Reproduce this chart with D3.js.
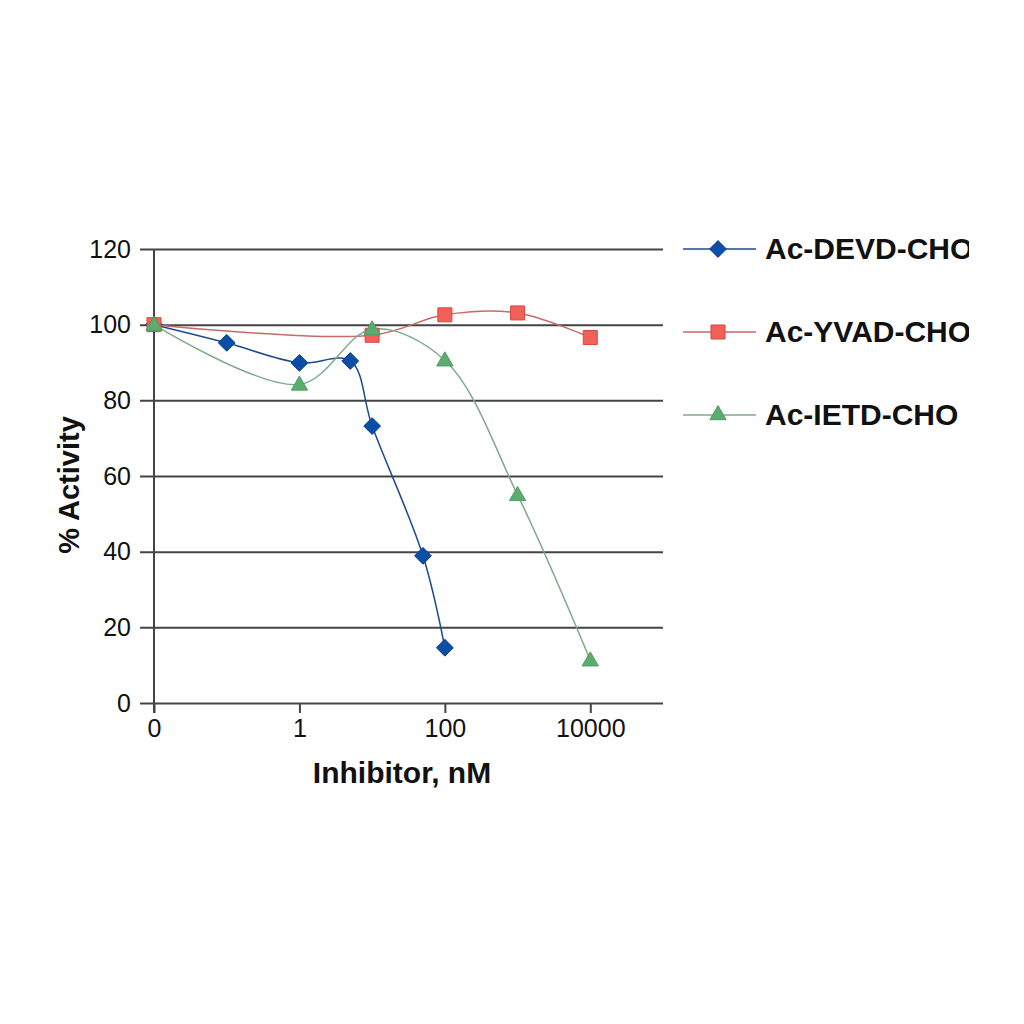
<!DOCTYPE html>
<html>
<head>
<meta charset="utf-8">
<script src="https://cdn.jsdelivr.net/npm/d3@7"></script>
<style>
  body { margin: 0; background: #fff; }
  text { font-family: "Liberation Sans", Arial, sans-serif; }
</style>
</head>
<body>
<svg width="1024" height="1024"></svg>
<script>
// series (x in nM, y in % activity)
var seriesNames = ["Ac-DEVD-CHO", "Ac-YVAD-CHO", "Ac-IETD-CHO"];
var devdX = [0.01, 0.1, 1, 5, 10, 50, 100];
var devdY = [100, 95.2, 89.9, 90.4, 73.2, 38.9, 14.6];
var yvadX = [0.01, 10, 100, 1000, 10000];
var yvadY = [100, 97.2, 102.6, 103.1, 96.6];
var ietdX = [0.01, 1, 10, 100, 1000, 10000];
var ietdY = [100, 84.2, 98.8, 90.6, 55, 11.3];
var xTicks = [0.01, 1, 100, 10000];
var xTickLabels = ["0", "1", "100", "10000"];
var yTicks = [0, 20, 40, 60, 80, 100, 120];

var svg = d3.select("svg");
var grey = "#444";

var x = d3.scaleLog().domain([0.01, 100000]).range([154, 663]);
var y = d3.scaleLinear().domain([0, 120]).range([703, 249]);

// gridlines + y ticks
var yAxis = d3.axisLeft(y).tickValues(yTicks).tickSize(-(663 - 140)).tickPadding(9)
  .tickFormat(d3.format("d"));
var gy = svg.append("g").attr("transform", "translate(140,0)").call(yAxis);
gy.select(".domain").remove();
gy.selectAll(".tick line").attr("stroke", grey).attr("stroke-width", 2);
gy.selectAll(".tick text").attr("font-size", 25).attr("fill", "#111")
  .attr("font-family", "Liberation Sans, Arial, sans-serif");

// vertical axis line
svg.append("line").attr("x1", 154).attr("x2", 154).attr("y1", 249).attr("y2", 713)
  .attr("stroke", grey).attr("stroke-width", 2);

// x axis
var xAxis = d3.axisBottom(x).tickValues(xTicks).tickSize(10).tickPadding(6)
  .tickFormat(function(d, i) { return xTickLabels[i]; });
var gx = svg.append("g").attr("transform", "translate(0,703)").call(xAxis);
gx.select(".domain").remove();
gx.selectAll(".tick line").attr("stroke", grey).attr("stroke-width", 2);
gx.selectAll(".tick text").attr("font-size", 25).attr("fill", "#111")
  .attr("font-family", "Liberation Sans, Arial, sans-serif");

// axis titles
svg.append("text").attr("x", 402).attr("y", 783).attr("text-anchor", "middle")
  .attr("font-size", 30).attr("font-weight", "bold").attr("fill", "#111")
  .text("Inhibitor, nM");
svg.append("text").attr("transform", "translate(79,485) rotate(-90)")
  .attr("text-anchor", "middle").attr("font-size", 29).attr("font-weight", "bold")
  .attr("fill", "#111").text("% Activity");

var styles = [
  { line: "#1c4a8c", fill: "#0b4ea6", stroke: "#0a3b85", shape: d3.symbolDiamond2, size: 180 },
  { line: "#c96a66", fill: "#f2605a", stroke: "#d8473f", shape: d3.symbolSquare2, size: 250 },
  { line: "#7eab8a", fill: "#5cab6f", stroke: "#4f9c62", shape: d3.symbolTriangle2, size: 190 }
];
var allX = [devdX, yvadX, ietdX];
var allY = [devdY, yvadY, ietdY];

var line = d3.line()
  .x(function(d) { return x(d[0]); })
  .y(function(d) { return y(d[1]); })
  .curve(d3.curveCatmullRom.alpha(0.5));

allX.forEach(function(xs, s) {
  var pts = xs.map(function(v, i) { return [v, allY[s][i]]; });
  svg.append("path").datum(pts).attr("d", line).attr("fill", "none")
    .attr("stroke", styles[s].line).attr("stroke-width", 1.5);
});

function marker(sel, s) {
  var st = styles[s];
  var sym = d3.symbol().type(st.shape).size(st.size);
  sel.attr("d", sym).attr("fill", st.fill).attr("stroke", st.stroke).attr("stroke-width", 1);
}

allX.forEach(function(xs, s) {
  var pts = xs.map(function(v, i) { return [v, allY[s][i]]; });
  svg.selectAll(".m" + s).data(pts).enter().append("path")
    .attr("class", "m" + s)
    .attr("transform", function(d) {
      var dy = s === 2 ? 1 : 0;
      return "translate(" + x(d[0]) + "," + (y(d[1]) + dy) + ")";
    })
    .call(marker, s);
});

// legend (text runs off the right edge in the original, so clip it)
svg.append("clipPath").attr("id", "legclip").append("rect")
  .attr("x", 670).attr("y", 200).attr("width", 299).attr("height", 260);
var legendWrap = svg.append("g").attr("clip-path", "url(#legclip)");
var legend = legendWrap.selectAll(".legend").data(seriesNames).enter().append("g")
  .attr("class", "legend")
  .attr("transform", function(d, i) { return "translate(0," + (249 + i * 83) + ")"; });
legend.append("line").attr("x1", 683).attr("x2", 756).attr("y1", 0).attr("y2", 0)
  .attr("stroke", function(d, i) { return styles[i].line; }).attr("stroke-width", 1.5);
legend.append("path").attr("transform", "translate(718,0)")
  .each(function(d, i) { d3.select(this).call(marker, i); });
legend.append("text").attr("x", 765).attr("y", 10)
  .attr("font-size", 30).attr("font-weight", "bold").attr("fill", "#111")
  .text(function(d) { return d; });
</script>
</body>
</html>
